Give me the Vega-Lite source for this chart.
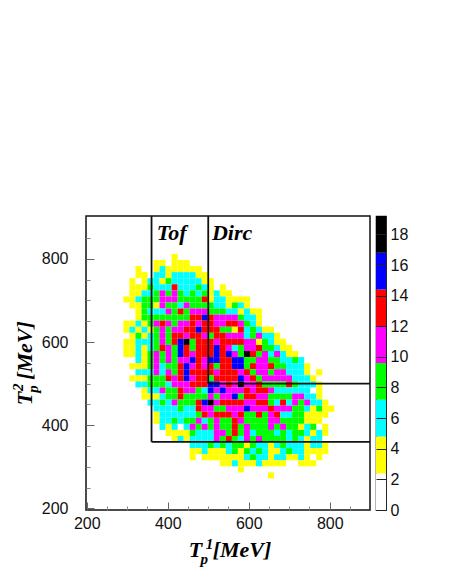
{"$schema":"https://vega.github.io/schema/vega-lite/v6.json","padding":{"left":9,"top":214,"right":5,"bottom":5},"background":"white","spacing":3,"config":{"view":{"stroke":null},"concat":{"spacing":3}},"hconcat":[{"width":284,"height":294,"view":{"stroke":"#111","strokeWidth":1.5},"resolve":{"axis":{"x":"independent","y":"independent"}},"layer":[{"mark":{"type":"rect"},"data":{"values":[
{"x":416,"y":806,"n":4},{"x":371,"y":791,"n":4},{"x":386,"y":791,"n":4},{"x":416,"y":791,"n":4},{"x":431,"y":791,"n":4},{"x":445,"y":791,"n":4},
{"x":326,"y":777,"n":4},{"x":371,"y":777,"n":4},{"x":386,"y":777,"n":6},{"x":401,"y":777,"n":4},{"x":416,"y":777,"n":4},{"x":431,"y":777,"n":4},{"x":445,"y":777,"n":4},{"x":460,"y":777,"n":4},{"x":475,"y":777,"n":4},
{"x":326,"y":762,"n":4},{"x":341,"y":762,"n":4},{"x":371,"y":762,"n":6},{"x":386,"y":762,"n":6},{"x":401,"y":762,"n":4},{"x":416,"y":762,"n":6},{"x":431,"y":762,"n":6},{"x":445,"y":762,"n":6},{"x":460,"y":762,"n":6},{"x":475,"y":762,"n":4},{"x":490,"y":762,"n":4},
{"x":312,"y":747,"n":4},{"x":341,"y":747,"n":4},{"x":356,"y":747,"n":6},{"x":371,"y":747,"n":6},{"x":386,"y":747,"n":4},{"x":401,"y":747,"n":8},{"x":416,"y":747,"n":6},{"x":431,"y":747,"n":6},{"x":445,"y":747,"n":6},{"x":460,"y":747,"n":6},{"x":475,"y":747,"n":6},{"x":490,"y":747,"n":4},{"x":505,"y":747,"n":4},
{"x":312,"y":733,"n":4},{"x":326,"y":733,"n":4},{"x":341,"y":733,"n":4},{"x":356,"y":733,"n":8},{"x":371,"y":733,"n":6},{"x":386,"y":733,"n":6},{"x":401,"y":733,"n":6},{"x":416,"y":733,"n":13},{"x":431,"y":733,"n":6},{"x":445,"y":733,"n":6},{"x":460,"y":733,"n":6},{"x":475,"y":733,"n":8},{"x":490,"y":733,"n":6},{"x":505,"y":733,"n":4},{"x":535,"y":733,"n":4},
{"x":312,"y":718,"n":4},{"x":326,"y":718,"n":4},{"x":341,"y":718,"n":6},{"x":356,"y":718,"n":6},{"x":371,"y":718,"n":8},{"x":386,"y":718,"n":10},{"x":401,"y":718,"n":8},{"x":416,"y":718,"n":10},{"x":431,"y":718,"n":8},{"x":445,"y":718,"n":6},{"x":460,"y":718,"n":8},{"x":475,"y":718,"n":6},{"x":490,"y":718,"n":8},{"x":505,"y":718,"n":4},{"x":520,"y":718,"n":6},{"x":535,"y":718,"n":4},{"x":550,"y":718,"n":4},
{"x":297,"y":704,"n":4},{"x":312,"y":704,"n":4},{"x":326,"y":704,"n":6},{"x":341,"y":704,"n":8},{"x":356,"y":704,"n":8},{"x":371,"y":704,"n":8},{"x":386,"y":704,"n":10},{"x":401,"y":704,"n":10},{"x":416,"y":704,"n":10},{"x":431,"y":704,"n":8},{"x":445,"y":704,"n":8},{"x":460,"y":704,"n":8},{"x":475,"y":704,"n":8},{"x":490,"y":704,"n":13},{"x":505,"y":704,"n":4},{"x":520,"y":704,"n":6},{"x":535,"y":704,"n":6},{"x":550,"y":704,"n":4},{"x":565,"y":704,"n":4},{"x":579,"y":704,"n":4},{"x":594,"y":704,"n":4},
{"x":312,"y":689,"n":4},{"x":326,"y":689,"n":4},{"x":341,"y":689,"n":8},{"x":356,"y":689,"n":8},{"x":371,"y":689,"n":4},{"x":386,"y":689,"n":10},{"x":401,"y":689,"n":8},{"x":416,"y":689,"n":8},{"x":431,"y":689,"n":6},{"x":445,"y":689,"n":10},{"x":460,"y":689,"n":8},{"x":475,"y":689,"n":8},{"x":490,"y":689,"n":8},{"x":505,"y":689,"n":8},{"x":520,"y":689,"n":6},{"x":535,"y":689,"n":6},{"x":550,"y":689,"n":4},{"x":565,"y":689,"n":8},{"x":579,"y":689,"n":6},{"x":594,"y":689,"n":4},
{"x":326,"y":674,"n":4},{"x":341,"y":674,"n":8},{"x":356,"y":674,"n":6},{"x":371,"y":674,"n":6},{"x":386,"y":674,"n":6},{"x":401,"y":674,"n":10},{"x":416,"y":674,"n":8},{"x":431,"y":674,"n":13},{"x":445,"y":674,"n":8},{"x":460,"y":674,"n":10},{"x":475,"y":674,"n":10},{"x":490,"y":674,"n":10},{"x":505,"y":674,"n":8},{"x":520,"y":674,"n":8},{"x":535,"y":674,"n":8},{"x":550,"y":674,"n":6},{"x":565,"y":674,"n":6},{"x":579,"y":674,"n":4},{"x":594,"y":674,"n":6},{"x":609,"y":674,"n":4},{"x":624,"y":674,"n":4},
{"x":326,"y":660,"n":4},{"x":341,"y":660,"n":8},{"x":356,"y":660,"n":8},{"x":371,"y":660,"n":8},{"x":386,"y":660,"n":8},{"x":401,"y":660,"n":8},{"x":416,"y":660,"n":8},{"x":431,"y":660,"n":8},{"x":445,"y":660,"n":8},{"x":460,"y":660,"n":13},{"x":475,"y":660,"n":13},{"x":490,"y":660,"n":15},{"x":505,"y":660,"n":13},{"x":520,"y":660,"n":10},{"x":535,"y":660,"n":10},{"x":550,"y":660,"n":10},{"x":565,"y":660,"n":10},{"x":579,"y":660,"n":8},{"x":594,"y":660,"n":6},{"x":609,"y":660,"n":6},{"x":624,"y":660,"n":4},
{"x":297,"y":645,"n":4},{"x":312,"y":645,"n":4},{"x":326,"y":645,"n":6},{"x":341,"y":645,"n":4},{"x":356,"y":645,"n":8},{"x":371,"y":645,"n":10},{"x":386,"y":645,"n":13},{"x":401,"y":645,"n":10},{"x":416,"y":645,"n":8},{"x":431,"y":645,"n":10},{"x":445,"y":645,"n":10},{"x":460,"y":645,"n":13},{"x":475,"y":645,"n":10},{"x":490,"y":645,"n":13},{"x":505,"y":645,"n":13},{"x":520,"y":645,"n":10},{"x":535,"y":645,"n":10},{"x":550,"y":645,"n":13},{"x":565,"y":645,"n":13},{"x":579,"y":645,"n":10},{"x":594,"y":645,"n":8},{"x":609,"y":645,"n":6},{"x":624,"y":645,"n":4},
{"x":297,"y":631,"n":4},{"x":312,"y":631,"n":6},{"x":326,"y":631,"n":4},{"x":341,"y":631,"n":6},{"x":356,"y":631,"n":4},{"x":371,"y":631,"n":8},{"x":386,"y":631,"n":10},{"x":401,"y":631,"n":8},{"x":416,"y":631,"n":10},{"x":431,"y":631,"n":10},{"x":445,"y":631,"n":13},{"x":460,"y":631,"n":13},{"x":475,"y":631,"n":15},{"x":490,"y":631,"n":13},{"x":505,"y":631,"n":13},{"x":520,"y":631,"n":13},{"x":535,"y":631,"n":8},{"x":550,"y":631,"n":8},{"x":565,"y":631,"n":4},{"x":579,"y":631,"n":13},{"x":594,"y":631,"n":6},{"x":609,"y":631,"n":8},{"x":624,"y":631,"n":6},{"x":639,"y":631,"n":4},{"x":654,"y":631,"n":4},
{"x":312,"y":616,"n":4},{"x":326,"y":616,"n":8},{"x":341,"y":616,"n":4},{"x":356,"y":616,"n":6},{"x":371,"y":616,"n":8},{"x":386,"y":616,"n":10},{"x":401,"y":616,"n":8},{"x":416,"y":616,"n":13},{"x":431,"y":616,"n":13},{"x":445,"y":616,"n":10},{"x":460,"y":616,"n":13},{"x":475,"y":616,"n":13},{"x":490,"y":616,"n":10},{"x":505,"y":616,"n":8},{"x":520,"y":616,"n":13},{"x":535,"y":616,"n":13},{"x":550,"y":616,"n":10},{"x":565,"y":616,"n":10},{"x":579,"y":616,"n":10},{"x":594,"y":616,"n":6},{"x":609,"y":616,"n":8},{"x":624,"y":616,"n":10},{"x":639,"y":616,"n":6},{"x":654,"y":616,"n":6},{"x":669,"y":616,"n":4},
{"x":297,"y":601,"n":4},{"x":312,"y":601,"n":4},{"x":326,"y":601,"n":6},{"x":341,"y":601,"n":6},{"x":356,"y":601,"n":6},{"x":371,"y":601,"n":8},{"x":386,"y":601,"n":10},{"x":401,"y":601,"n":8},{"x":416,"y":601,"n":13},{"x":431,"y":601,"n":15},{"x":445,"y":601,"n":18},{"x":460,"y":601,"n":8},{"x":475,"y":601,"n":13},{"x":490,"y":601,"n":13},{"x":505,"y":601,"n":13},{"x":520,"y":601,"n":10},{"x":535,"y":601,"n":13},{"x":550,"y":601,"n":13},{"x":565,"y":601,"n":13},{"x":579,"y":601,"n":13},{"x":594,"y":601,"n":10},{"x":609,"y":601,"n":10},{"x":624,"y":601,"n":4},{"x":639,"y":601,"n":8},{"x":654,"y":601,"n":6},{"x":669,"y":601,"n":4},{"x":684,"y":601,"n":4},
{"x":297,"y":587,"n":4},{"x":312,"y":587,"n":4},{"x":326,"y":587,"n":6},{"x":341,"y":587,"n":4},{"x":356,"y":587,"n":6},{"x":371,"y":587,"n":8},{"x":386,"y":587,"n":13},{"x":401,"y":587,"n":10},{"x":416,"y":587,"n":8},{"x":431,"y":587,"n":15},{"x":445,"y":587,"n":13},{"x":460,"y":587,"n":8},{"x":475,"y":587,"n":13},{"x":490,"y":587,"n":13},{"x":505,"y":587,"n":13},{"x":520,"y":587,"n":15},{"x":535,"y":587,"n":13},{"x":550,"y":587,"n":10},{"x":565,"y":587,"n":6},{"x":579,"y":587,"n":8},{"x":594,"y":587,"n":10},{"x":609,"y":587,"n":10},{"x":624,"y":587,"n":13},{"x":639,"y":587,"n":8},{"x":654,"y":587,"n":8},{"x":669,"y":587,"n":6},{"x":684,"y":587,"n":4},{"x":698,"y":587,"n":4},
{"x":297,"y":572,"n":4},{"x":312,"y":572,"n":4},{"x":326,"y":572,"n":6},{"x":341,"y":572,"n":4},{"x":356,"y":572,"n":8},{"x":371,"y":572,"n":10},{"x":386,"y":572,"n":8},{"x":401,"y":572,"n":10},{"x":416,"y":572,"n":8},{"x":431,"y":572,"n":15},{"x":445,"y":572,"n":13},{"x":460,"y":572,"n":10},{"x":475,"y":572,"n":13},{"x":490,"y":572,"n":13},{"x":505,"y":572,"n":13},{"x":520,"y":572,"n":15},{"x":535,"y":572,"n":13},{"x":550,"y":572,"n":15},{"x":565,"y":572,"n":10},{"x":579,"y":572,"n":8},{"x":594,"y":572,"n":18},{"x":609,"y":572,"n":13},{"x":624,"y":572,"n":8},{"x":639,"y":572,"n":10},{"x":654,"y":572,"n":6},{"x":669,"y":572,"n":10},{"x":684,"y":572,"n":6},{"x":698,"y":572,"n":4},{"x":713,"y":572,"n":4},
{"x":326,"y":558,"n":6},{"x":341,"y":558,"n":4},{"x":356,"y":558,"n":8},{"x":371,"y":558,"n":10},{"x":386,"y":558,"n":8},{"x":401,"y":558,"n":10},{"x":416,"y":558,"n":8},{"x":431,"y":558,"n":10},{"x":445,"y":558,"n":10},{"x":460,"y":558,"n":15},{"x":475,"y":558,"n":13},{"x":490,"y":558,"n":10},{"x":505,"y":558,"n":15},{"x":520,"y":558,"n":15},{"x":535,"y":558,"n":13},{"x":550,"y":558,"n":13},{"x":565,"y":558,"n":15},{"x":579,"y":558,"n":15},{"x":594,"y":558,"n":8},{"x":609,"y":558,"n":8},{"x":624,"y":558,"n":10},{"x":639,"y":558,"n":10},{"x":654,"y":558,"n":8},{"x":669,"y":558,"n":8},{"x":684,"y":558,"n":6},{"x":698,"y":558,"n":6},{"x":713,"y":558,"n":8},{"x":728,"y":558,"n":6},
{"x":312,"y":543,"n":4},{"x":326,"y":543,"n":4},{"x":341,"y":543,"n":4},{"x":356,"y":543,"n":8},{"x":371,"y":543,"n":10},{"x":386,"y":543,"n":6},{"x":401,"y":543,"n":8},{"x":416,"y":543,"n":8},{"x":431,"y":543,"n":13},{"x":445,"y":543,"n":15},{"x":460,"y":543,"n":10},{"x":475,"y":543,"n":13},{"x":490,"y":543,"n":10},{"x":505,"y":543,"n":13},{"x":520,"y":543,"n":8},{"x":535,"y":543,"n":13},{"x":550,"y":543,"n":13},{"x":565,"y":543,"n":15},{"x":579,"y":543,"n":15},{"x":594,"y":543,"n":8},{"x":609,"y":543,"n":13},{"x":624,"y":543,"n":10},{"x":639,"y":543,"n":10},{"x":654,"y":543,"n":13},{"x":669,"y":543,"n":8},{"x":684,"y":543,"n":8},{"x":698,"y":543,"n":6},{"x":713,"y":543,"n":6},{"x":728,"y":543,"n":6},{"x":743,"y":543,"n":4},
{"x":326,"y":528,"n":6},{"x":341,"y":528,"n":6},{"x":356,"y":528,"n":6},{"x":371,"y":528,"n":10},{"x":386,"y":528,"n":6},{"x":401,"y":528,"n":10},{"x":416,"y":528,"n":8},{"x":431,"y":528,"n":13},{"x":445,"y":528,"n":15},{"x":460,"y":528,"n":13},{"x":475,"y":528,"n":13},{"x":490,"y":528,"n":13},{"x":505,"y":528,"n":13},{"x":520,"y":528,"n":10},{"x":535,"y":528,"n":13},{"x":550,"y":528,"n":13},{"x":565,"y":528,"n":13},{"x":579,"y":528,"n":10},{"x":594,"y":528,"n":13},{"x":609,"y":528,"n":8},{"x":624,"y":528,"n":10},{"x":639,"y":528,"n":10},{"x":654,"y":528,"n":8},{"x":669,"y":528,"n":10},{"x":684,"y":528,"n":10},{"x":698,"y":528,"n":6},{"x":713,"y":528,"n":6},{"x":728,"y":528,"n":6},{"x":743,"y":528,"n":4},{"x":773,"y":528,"n":4},
{"x":312,"y":514,"n":4},{"x":326,"y":514,"n":4},{"x":341,"y":514,"n":4},{"x":356,"y":514,"n":8},{"x":371,"y":514,"n":8},{"x":386,"y":514,"n":8},{"x":401,"y":514,"n":13},{"x":416,"y":514,"n":10},{"x":431,"y":514,"n":13},{"x":445,"y":514,"n":15},{"x":460,"y":514,"n":10},{"x":475,"y":514,"n":13},{"x":490,"y":514,"n":13},{"x":505,"y":514,"n":8},{"x":520,"y":514,"n":13},{"x":535,"y":514,"n":13},{"x":550,"y":514,"n":13},{"x":565,"y":514,"n":13},{"x":579,"y":514,"n":15},{"x":594,"y":514,"n":10},{"x":609,"y":514,"n":13},{"x":624,"y":514,"n":8},{"x":639,"y":514,"n":10},{"x":654,"y":514,"n":10},{"x":669,"y":514,"n":10},{"x":684,"y":514,"n":10},{"x":698,"y":514,"n":10},{"x":713,"y":514,"n":6},{"x":728,"y":514,"n":6},{"x":743,"y":514,"n":6},{"x":758,"y":514,"n":4},
{"x":326,"y":499,"n":6},{"x":341,"y":499,"n":6},{"x":356,"y":499,"n":8},{"x":371,"y":499,"n":8},{"x":386,"y":499,"n":8},{"x":401,"y":499,"n":6},{"x":416,"y":499,"n":10},{"x":431,"y":499,"n":10},{"x":445,"y":499,"n":10},{"x":460,"y":499,"n":13},{"x":475,"y":499,"n":13},{"x":490,"y":499,"n":13},{"x":505,"y":499,"n":15},{"x":520,"y":499,"n":15},{"x":535,"y":499,"n":10},{"x":550,"y":499,"n":13},{"x":565,"y":499,"n":10},{"x":579,"y":499,"n":18},{"x":594,"y":499,"n":10},{"x":609,"y":499,"n":10},{"x":624,"y":499,"n":13},{"x":639,"y":499,"n":8},{"x":654,"y":499,"n":8},{"x":669,"y":499,"n":8},{"x":684,"y":499,"n":8},{"x":698,"y":499,"n":13},{"x":713,"y":499,"n":8},{"x":728,"y":499,"n":6},{"x":743,"y":499,"n":6},{"x":758,"y":499,"n":6},{"x":773,"y":499,"n":4},
{"x":341,"y":485,"n":4},{"x":356,"y":485,"n":6},{"x":371,"y":485,"n":6},{"x":386,"y":485,"n":10},{"x":401,"y":485,"n":8},{"x":416,"y":485,"n":8},{"x":431,"y":485,"n":13},{"x":445,"y":485,"n":10},{"x":460,"y":485,"n":10},{"x":475,"y":485,"n":8},{"x":490,"y":485,"n":6},{"x":505,"y":485,"n":15},{"x":520,"y":485,"n":10},{"x":535,"y":485,"n":15},{"x":550,"y":485,"n":10},{"x":565,"y":485,"n":10},{"x":579,"y":485,"n":10},{"x":594,"y":485,"n":13},{"x":609,"y":485,"n":10},{"x":624,"y":485,"n":13},{"x":639,"y":485,"n":13},{"x":654,"y":485,"n":10},{"x":669,"y":485,"n":6},{"x":684,"y":485,"n":6},{"x":698,"y":485,"n":6},{"x":713,"y":485,"n":6},{"x":728,"y":485,"n":6},{"x":743,"y":485,"n":6},{"x":773,"y":485,"n":4},
{"x":341,"y":470,"n":4},{"x":356,"y":470,"n":4},{"x":371,"y":470,"n":4},{"x":386,"y":470,"n":6},{"x":401,"y":470,"n":8},{"x":416,"y":470,"n":8},{"x":431,"y":470,"n":13},{"x":445,"y":470,"n":8},{"x":460,"y":470,"n":8},{"x":475,"y":470,"n":8},{"x":490,"y":470,"n":8},{"x":505,"y":470,"n":10},{"x":520,"y":470,"n":8},{"x":535,"y":470,"n":10},{"x":550,"y":470,"n":10},{"x":565,"y":470,"n":15},{"x":579,"y":470,"n":8},{"x":594,"y":470,"n":13},{"x":609,"y":470,"n":13},{"x":624,"y":470,"n":10},{"x":639,"y":470,"n":10},{"x":654,"y":470,"n":8},{"x":669,"y":470,"n":8},{"x":684,"y":470,"n":8},{"x":698,"y":470,"n":8},{"x":713,"y":470,"n":10},{"x":728,"y":470,"n":10},{"x":743,"y":470,"n":6},{"x":758,"y":470,"n":6},{"x":773,"y":470,"n":4},
{"x":356,"y":455,"n":6},{"x":371,"y":455,"n":6},{"x":386,"y":455,"n":8},{"x":401,"y":455,"n":6},{"x":416,"y":455,"n":10},{"x":431,"y":455,"n":8},{"x":445,"y":455,"n":8},{"x":460,"y":455,"n":8},{"x":475,"y":455,"n":13},{"x":490,"y":455,"n":15},{"x":505,"y":455,"n":18},{"x":520,"y":455,"n":10},{"x":535,"y":455,"n":13},{"x":550,"y":455,"n":13},{"x":565,"y":455,"n":13},{"x":579,"y":455,"n":13},{"x":594,"y":455,"n":10},{"x":609,"y":455,"n":10},{"x":624,"y":455,"n":13},{"x":639,"y":455,"n":13},{"x":654,"y":455,"n":8},{"x":669,"y":455,"n":6},{"x":684,"y":455,"n":13},{"x":698,"y":455,"n":6},{"x":713,"y":455,"n":10},{"x":728,"y":455,"n":8},{"x":743,"y":455,"n":10},{"x":758,"y":455,"n":6},{"x":773,"y":455,"n":6},{"x":788,"y":455,"n":4},
{"x":371,"y":441,"n":6},{"x":386,"y":441,"n":6},{"x":401,"y":441,"n":6},{"x":416,"y":441,"n":6},{"x":431,"y":441,"n":8},{"x":445,"y":441,"n":6},{"x":460,"y":441,"n":6},{"x":475,"y":441,"n":13},{"x":490,"y":441,"n":10},{"x":505,"y":441,"n":10},{"x":520,"y":441,"n":8},{"x":535,"y":441,"n":8},{"x":550,"y":441,"n":10},{"x":565,"y":441,"n":10},{"x":579,"y":441,"n":10},{"x":594,"y":441,"n":15},{"x":609,"y":441,"n":10},{"x":624,"y":441,"n":10},{"x":639,"y":441,"n":10},{"x":654,"y":441,"n":13},{"x":669,"y":441,"n":10},{"x":684,"y":441,"n":10},{"x":698,"y":441,"n":10},{"x":713,"y":441,"n":8},{"x":728,"y":441,"n":8},{"x":743,"y":441,"n":6},{"x":758,"y":441,"n":4},{"x":773,"y":441,"n":8},{"x":788,"y":441,"n":4},{"x":803,"y":441,"n":4},
{"x":371,"y":426,"n":4},{"x":386,"y":426,"n":6},{"x":401,"y":426,"n":6},{"x":416,"y":426,"n":6},{"x":431,"y":426,"n":6},{"x":445,"y":426,"n":6},{"x":460,"y":426,"n":6},{"x":475,"y":426,"n":8},{"x":490,"y":426,"n":13},{"x":505,"y":426,"n":10},{"x":520,"y":426,"n":13},{"x":535,"y":426,"n":13},{"x":550,"y":426,"n":13},{"x":565,"y":426,"n":10},{"x":579,"y":426,"n":13},{"x":594,"y":426,"n":8},{"x":609,"y":426,"n":8},{"x":624,"y":426,"n":13},{"x":639,"y":426,"n":8},{"x":654,"y":426,"n":10},{"x":669,"y":426,"n":13},{"x":684,"y":426,"n":6},{"x":698,"y":426,"n":6},{"x":713,"y":426,"n":8},{"x":728,"y":426,"n":8},{"x":743,"y":426,"n":4},{"x":758,"y":426,"n":4},{"x":773,"y":426,"n":4},{"x":788,"y":426,"n":4},
{"x":371,"y":412,"n":4},{"x":386,"y":412,"n":6},{"x":401,"y":412,"n":6},{"x":416,"y":412,"n":8},{"x":431,"y":412,"n":6},{"x":445,"y":412,"n":8},{"x":460,"y":412,"n":8},{"x":475,"y":412,"n":10},{"x":490,"y":412,"n":6},{"x":505,"y":412,"n":8},{"x":520,"y":412,"n":10},{"x":535,"y":412,"n":8},{"x":550,"y":412,"n":8},{"x":565,"y":412,"n":13},{"x":579,"y":412,"n":10},{"x":594,"y":412,"n":8},{"x":609,"y":412,"n":8},{"x":624,"y":412,"n":8},{"x":639,"y":412,"n":8},{"x":654,"y":412,"n":10},{"x":669,"y":412,"n":10},{"x":684,"y":412,"n":8},{"x":698,"y":412,"n":8},{"x":713,"y":412,"n":8},{"x":728,"y":412,"n":8},{"x":743,"y":412,"n":4},{"x":758,"y":412,"n":4},{"x":773,"y":412,"n":4},
{"x":386,"y":397,"n":6},{"x":401,"y":397,"n":4},{"x":416,"y":397,"n":6},{"x":445,"y":397,"n":6},{"x":460,"y":397,"n":10},{"x":475,"y":397,"n":8},{"x":490,"y":397,"n":10},{"x":505,"y":397,"n":8},{"x":520,"y":397,"n":10},{"x":535,"y":397,"n":8},{"x":550,"y":397,"n":8},{"x":565,"y":397,"n":13},{"x":579,"y":397,"n":8},{"x":594,"y":397,"n":10},{"x":609,"y":397,"n":8},{"x":624,"y":397,"n":8},{"x":639,"y":397,"n":8},{"x":654,"y":397,"n":10},{"x":669,"y":397,"n":8},{"x":684,"y":397,"n":10},{"x":698,"y":397,"n":8},{"x":713,"y":397,"n":8},{"x":728,"y":397,"n":4},{"x":743,"y":397,"n":6},{"x":758,"y":397,"n":8},{"x":788,"y":397,"n":4},
{"x":401,"y":382,"n":4},{"x":416,"y":382,"n":4},{"x":431,"y":382,"n":4},{"x":445,"y":382,"n":4},{"x":460,"y":382,"n":8},{"x":475,"y":382,"n":6},{"x":490,"y":382,"n":6},{"x":505,"y":382,"n":6},{"x":520,"y":382,"n":10},{"x":535,"y":382,"n":10},{"x":550,"y":382,"n":8},{"x":565,"y":382,"n":13},{"x":579,"y":382,"n":8},{"x":594,"y":382,"n":10},{"x":609,"y":382,"n":6},{"x":624,"y":382,"n":8},{"x":639,"y":382,"n":8},{"x":654,"y":382,"n":8},{"x":669,"y":382,"n":6},{"x":684,"y":382,"n":8},{"x":698,"y":382,"n":6},{"x":713,"y":382,"n":8},{"x":728,"y":382,"n":8},{"x":743,"y":382,"n":6},{"x":758,"y":382,"n":4},{"x":773,"y":382,"n":6},{"x":788,"y":382,"n":4},
{"x":416,"y":368,"n":4},{"x":431,"y":368,"n":6},{"x":445,"y":368,"n":4},{"x":460,"y":368,"n":6},{"x":475,"y":368,"n":6},{"x":490,"y":368,"n":6},{"x":505,"y":368,"n":6},{"x":520,"y":368,"n":10},{"x":535,"y":368,"n":8},{"x":550,"y":368,"n":13},{"x":565,"y":368,"n":8},{"x":579,"y":368,"n":6},{"x":594,"y":368,"n":10},{"x":609,"y":368,"n":8},{"x":624,"y":368,"n":10},{"x":639,"y":368,"n":8},{"x":654,"y":368,"n":8},{"x":669,"y":368,"n":8},{"x":684,"y":368,"n":8},{"x":698,"y":368,"n":6},{"x":713,"y":368,"n":8},{"x":728,"y":368,"n":6},{"x":743,"y":368,"n":4},{"x":758,"y":368,"n":6},{"x":773,"y":368,"n":6},
{"x":460,"y":353,"n":6},{"x":475,"y":353,"n":6},{"x":490,"y":353,"n":6},{"x":505,"y":353,"n":8},{"x":520,"y":353,"n":6},{"x":535,"y":353,"n":8},{"x":550,"y":353,"n":6},{"x":565,"y":353,"n":8},{"x":579,"y":353,"n":8},{"x":594,"y":353,"n":4},{"x":609,"y":353,"n":8},{"x":624,"y":353,"n":6},{"x":639,"y":353,"n":6},{"x":654,"y":353,"n":4},{"x":669,"y":353,"n":6},{"x":684,"y":353,"n":8},{"x":698,"y":353,"n":6},{"x":713,"y":353,"n":6},{"x":728,"y":353,"n":6},{"x":743,"y":353,"n":4},{"x":758,"y":353,"n":6},{"x":773,"y":353,"n":6},{"x":788,"y":353,"n":4},
{"x":460,"y":339,"n":4},{"x":475,"y":339,"n":4},{"x":490,"y":339,"n":6},{"x":505,"y":339,"n":4},{"x":520,"y":339,"n":4},{"x":535,"y":339,"n":4},{"x":550,"y":339,"n":6},{"x":565,"y":339,"n":8},{"x":579,"y":339,"n":4},{"x":594,"y":339,"n":8},{"x":609,"y":339,"n":6},{"x":624,"y":339,"n":8},{"x":639,"y":339,"n":6},{"x":654,"y":339,"n":4},{"x":669,"y":339,"n":4},{"x":684,"y":339,"n":6},{"x":698,"y":339,"n":8},{"x":713,"y":339,"n":6},{"x":728,"y":339,"n":6},{"x":743,"y":339,"n":4},{"x":758,"y":339,"n":4},{"x":773,"y":339,"n":4},{"x":788,"y":339,"n":4},
{"x":460,"y":324,"n":4},{"x":490,"y":324,"n":4},{"x":505,"y":324,"n":4},{"x":520,"y":324,"n":4},{"x":535,"y":324,"n":4},{"x":550,"y":324,"n":4},{"x":565,"y":324,"n":4},{"x":579,"y":324,"n":4},{"x":594,"y":324,"n":6},{"x":609,"y":324,"n":8},{"x":624,"y":324,"n":6},{"x":639,"y":324,"n":6},{"x":654,"y":324,"n":4},{"x":669,"y":324,"n":6},{"x":684,"y":324,"n":6},{"x":698,"y":324,"n":4},{"x":713,"y":324,"n":4},{"x":728,"y":324,"n":6},{"x":743,"y":324,"n":4},{"x":773,"y":324,"n":4},
{"x":535,"y":310,"n":4},{"x":550,"y":310,"n":4},{"x":565,"y":310,"n":6},{"x":579,"y":310,"n":4},{"x":594,"y":310,"n":4},{"x":609,"y":310,"n":4},{"x":624,"y":310,"n":6},{"x":639,"y":310,"n":4},{"x":654,"y":310,"n":4},{"x":669,"y":310,"n":4},{"x":684,"y":310,"n":4},{"x":728,"y":310,"n":4},{"x":743,"y":310,"n":4},{"x":758,"y":310,"n":4},
{"x":579,"y":295,"n":4},{"x":654,"y":280,"n":4}
]},"encoding":{"x":{"field":"x","bin":{"step":14.88,"extent":[200,904],"nice":false},"type":"quantitative","scale":{"domain":[198.2,899.4],"nice":false,"zero":false},"axis":{"values":[200,400,600,800],"title":null,"grid":false,"domain":false,"format":"d","tickSize":-8,"tickColor":"#666","labelFont":"Liberation Sans","labelFontSize":16,"labelColor":"#111","labelPadding":13,"labelFlush":false,"labelOverlap":false}},"y":{"field":"y","bin":{"step":14.6,"extent":[200,904],"nice":false},"type":"quantitative","scale":{"domain":[195.9,903.2],"nice":false,"zero":false},"axis":{"values":[200,400,600,800],"title":null,"grid":false,"domain":false,"format":"d","tickSize":-8,"tickColor":"#666","labelFont":"Liberation Sans","labelFontSize":16,"labelColor":"#111","labelPadding":26,"labelOverlap":false}},"color":{"field":"n","type":"quantitative","legend":null,"scale":{"type":"threshold","domain":[2.4,4.8,7.2,9.6,12,14.4,16.8],"range":["#ffffff","#ffff00","#00ffff","#00ff00","#ff00ff","#ff0000","#0000ff","#000000"]}}}},
{"mark":{"type":"rule","color":"#111","strokeWidth":1.8},"data":{"values":[{"x":360,"y":903,"x2":360,"y2":360},{"x":360,"y":360,"x2":899,"y2":360},{"x":500,"y":903,"x2":500,"y2":500},{"x":500,"y":500,"x2":899,"y2":500}]},"encoding":{"x":{"field":"x","type":"quantitative","scale":{"domain":[198.2,899.4],"nice":false,"zero":false},"axis":{"values":[250,300,350,450,500,550,650,700,750,850],"title":null,"labels":false,"grid":false,"domain":false,"tickSize":-4,"tickColor":"#888","orient":"bottom"}},"y":{"field":"y","type":"quantitative","scale":{"domain":[195.9,903.2],"nice":false,"zero":false},"axis":{"values":[250,300,350,450,500,550,650,700,750,850],"title":null,"labels":false,"grid":false,"domain":false,"tickSize":-4,"tickColor":"#888","orient":"left"}},"x2":{"field":"x2"},"y2":{"field":"y2"}}},
{"mark":{"type":"text","font":"Liberation Serif","fontStyle":"italic","fontWeight":"bold","fontSize":22,"align":"left","baseline":"alphabetic","color":"black","clip":false},"data":{"values":[{"x":373,"y":845,"t":"Tof"},{"x":509,"y":845,"t":"Dirc"},{"x":452,"y":82,"t":"T"},{"x":511,"y":82,"t":"[MeV]"}]},"encoding":{"x":{"field":"x","type":"quantitative","scale":{"domain":[198.2,899.4],"nice":false,"zero":false},"axis":null},"y":{"field":"y","type":"quantitative","scale":{"domain":[195.9,903.2],"nice":false,"zero":false},"axis":null},"text":{"field":"t"}}},
{"mark":{"type":"text","font":"Liberation Serif","fontStyle":"italic","fontWeight":"bold","fontSize":15,"align":"left","baseline":"alphabetic","color":"black","clip":false},"data":{"values":[{"x":494,"y":101,"t":"1"},{"x":481,"y":66,"t":"p"}]},"encoding":{"x":{"field":"x","type":"quantitative","scale":{"domain":[198.2,899.4],"nice":false,"zero":false},"axis":null},"y":{"field":"y","type":"quantitative","scale":{"domain":[195.9,903.2],"nice":false,"zero":false},"axis":null},"text":{"field":"t"}}},
{"mark":{"type":"text","font":"Liberation Serif","fontStyle":"italic","fontWeight":"bold","fontSize":22,"align":"left","baseline":"alphabetic","angle":270,"color":"black","clip":false},"data":{"values":[{"x":64,"y":448,"t":"T"},{"x":64,"y":509,"t":"[MeV]"}]},"encoding":{"x":{"field":"x","type":"quantitative","scale":{"domain":[198.2,899.4],"nice":false,"zero":false},"axis":null},"y":{"field":"y","type":"quantitative","scale":{"domain":[195.9,903.2],"nice":false,"zero":false},"axis":null},"text":{"field":"t"}}},
{"mark":{"type":"text","font":"Liberation Serif","fontStyle":"italic","fontWeight":"bold","fontSize":15,"align":"left","baseline":"alphabetic","angle":270,"color":"black","clip":false},"data":{"values":[{"x":42,"y":482,"t":"2"},{"x":79,"y":478,"t":"p"}]},"encoding":{"x":{"field":"x","type":"quantitative","scale":{"domain":[198.2,899.4],"nice":false,"zero":false},"axis":null},"y":{"field":"y","type":"quantitative","scale":{"domain":[195.9,903.2],"nice":false,"zero":false},"axis":null},"text":{"field":"t"}}}
]},
{"width":10,"height":294,"view":{"stroke":"#111","strokeWidth":1.2},"data":{"values":[{"a":0,"b":2.4},{"a":2.4,"b":4.8},{"a":4.8,"b":7.2},{"a":7.2,"b":9.6},{"a":9.6,"b":12},{"a":12,"b":14.4},{"a":14.4,"b":16.8},{"a":16.8,"b":19.2}]},"mark":{"type":"rect"},"encoding":{"y":{"field":"a","type":"quantitative","scale":{"domain":[0,19.2],"nice":false,"zero":false},"axis":{"orient":"right","values":[0,2,4,6,8,10,12,14,16,18],"title":null,"grid":true,"gridColor":"#222","gridWidth":1,"zindex":1,"domain":false,"ticks":false,"labelFont":"Liberation Sans","labelFontSize":16,"labelColor":"#111","labelPadding":4,"labelOverlap":false,"format":"d"}},"y2":{"field":"b"},"color":{"field":"a","type":"quantitative","legend":null,"scale":{"type":"threshold","domain":[2.4,4.8,7.2,9.6,12,14.4,16.8],"range":["#ffffff","#ffff00","#00ffff","#00ff00","#ff00ff","#ff0000","#0000ff","#000000"]}}}}
]}
